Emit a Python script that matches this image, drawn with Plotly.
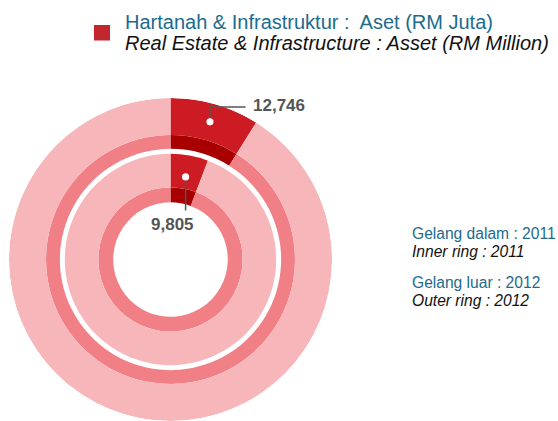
import math
import plotly.graph_objects as go

# ---- data ----
years = ["2011", "2012"]               # inner ring, outer ring
real_estate = [9805, 12746]            # RM million
ring_total = [170500, 143400]          # estimated totals (share read from arc angles)
labels = ["9,805", "12,746"]

title_ms = "Hartanah & Infrastruktur :  Aset (RM Juta)"
title_en = "Real Estate & Infrastructure : Asset (RM Million)"
legend_ms = ["Gelang dalam : 2011", "Gelang luar : 2012"]
legend_en = ["Inner ring : 2011", "Outer ring : 2012"]

# ---- style ----
W, H = 558, 421
R = 163.5
CX, CY, RPX = 170.5, 259.5, 161.5      # centre (px from top-left) and drawn radius
# ring geometry: (dark inner band start, bright band start, outer edge)
rings = [(58, 73, 107), (112, 126, 163.5)]
dot_radius = [85, 145]
PINK, PINK_D = "#f7b6ba", "#f08086"
RED, RED_D = "#cc1b23", "#a80000"
TEAL = "#1c6b8c"
GREY = "#555555"
FONT = "Liberation Sans, Arial, sans-serif"

def px(x):
    return x / W

def py(y):
    return 1 - y / H

fig = go.Figure()

dots_t = []
for i in range(2):
    frac = real_estate[i] / ring_total[i]
    a = frac * 360
    r0, r1, r2 = rings[i]
    for base, top, col_red, col_pink in [(r0, r1, RED_D, PINK_D), (r1, r2, RED, PINK)]:
        fig.add_trace(go.Barpolar(
            r=[top - base, top - base], base=[base, base],
            theta=[a / 2, a + (360 - a) / 2], width=[a, 360 - a],
            marker=dict(color=[col_red, col_pink], line=dict(width=0)),
            hoverinfo="skip", showlegend=False))
    dots_t.append(a / 2)

dom_x = [px(CX - RPX), px(CX + RPX)]
dom_y = [py(CY + RPX), py(CY - RPX)]
fig.update_layout(
    width=W, height=H, margin=dict(l=0, r=0, t=0, b=0),
    paper_bgcolor="white", plot_bgcolor="white",
    polar=dict(
        domain=dict(x=dom_x, y=dom_y), bgcolor="white", hole=0, bargap=0,
        radialaxis=dict(range=[0, R], visible=False, showgrid=False),
        angularaxis=dict(rotation=90, direction="clockwise", visible=False, showgrid=False),
    ),
    xaxis=dict(domain=dom_x, range=[-R, R], visible=False, fixedrange=True),
    yaxis=dict(domain=dom_y, range=[-R, R], visible=False, fixedrange=True),
    showlegend=False,
)

# leader lines and value labels, positioned from the dot positions
DOT = 3.6
for i in range(2):
    th = math.radians(dots_t[i])
    dx, dy = dot_radius[i] * math.sin(th), dot_radius[i] * math.cos(th)
    if i == 1:
        path = f"M{dx},{dy + DOT} L{dx},{dy + 15} L{dx + 36},{dy + 15}"
        fig.add_annotation(x=dx + 42, y=dy + 16.5, xref="x", yref="y", text=f"<b>{labels[i]}</b>",
                           showarrow=False, xanchor="left", yanchor="middle",
                           font=dict(family=FONT, size=17, color=GREY))
    else:
        path = f"M{dx},{dy - DOT} L{dx},{dy - 34}"
        fig.add_annotation(x=dx - 13, y=dy - 48.5, xref="x", yref="y", text=f"<b>{labels[i]}</b>",
                           showarrow=False, xanchor="center", yanchor="middle",
                           font=dict(family=FONT, size=17, color=GREY))
    fig.add_shape(type="path", path=path, xref="x", yref="y", layer="above",
                  line=dict(color=GREY, width=1.5))
    # white dot at the segment centre
    fig.add_shape(type="circle", xref="x", yref="y", layer="above",
                  x0=dx - DOT, x1=dx + DOT, y0=dy - DOT, y1=dy + DOT,
                  fillcolor="white", line=dict(width=0))

# header
fig.add_shape(type="rect", xref="paper", yref="paper",
              x0=px(94), x1=px(110), y0=py(40.5), y1=py(25),
              fillcolor="#c1272d", line=dict(width=0))
fig.add_annotation(x=px(123), y=py(22), xref="paper", yref="paper", text=title_ms,
                   showarrow=False, xanchor="left", yanchor="middle",
                   font=dict(family=FONT, size=20, color=TEAL))
fig.add_annotation(x=px(123), y=py(43), xref="paper", yref="paper", text=f"<i>{title_en}</i>",
                   showarrow=False, xanchor="left", yanchor="middle",
                   font=dict(family=FONT, size=20, color="#111111"))

# right-hand legend text
for j, (ms, en) in enumerate(zip(legend_ms, legend_en)):
    y0 = 234 + j * 48.5
    fig.add_annotation(x=px(410), y=py(y0), xref="paper", yref="paper", text=ms,
                       showarrow=False, xanchor="left", yanchor="middle",
                       font=dict(family=FONT, size=15.6, color=TEAL))
    fig.add_annotation(x=px(410), y=py(y0 + 17.5), xref="paper", yref="paper", text=f"<i>{en}</i>",
                       showarrow=False, xanchor="left", yanchor="middle",
                       font=dict(family=FONT, size=15.6, color="#111111"))

fig.write_html("out.html", config={"displayModeBar": False},
               post_script="document.body.style.margin='0';")
